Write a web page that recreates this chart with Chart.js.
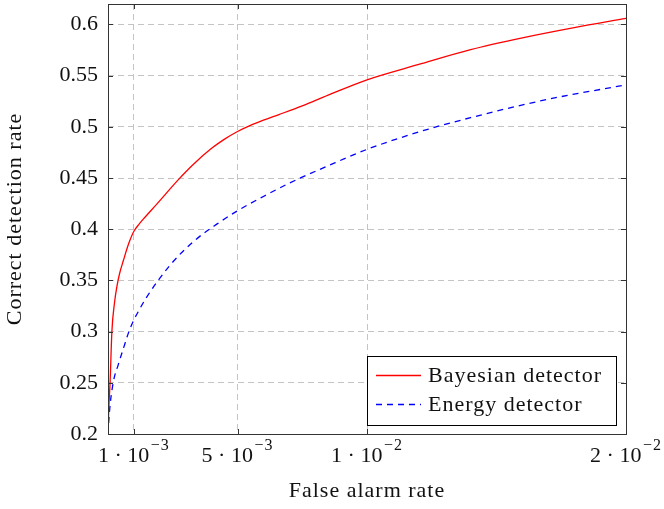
<!DOCTYPE html>
<html>
<head>
<meta charset="utf-8">
<script src="https://cdn.jsdelivr.net/npm/chart.js@4"></script>
<style>
  html, body { margin: 0; padding: 0; background: #fff; }
  canvas { display: block; }
</style>
</head>
<body>
<canvas id="rocChart" width="664" height="509"></canvas>
<script>
// false alarm rate (x) and correct detection rate (y)
const bayesX = [0, 0.00003, 0.00008, 0.00015, 0.00025, 0.00035, 0.00045, 0.0006, 0.0008, 0.001, 0.0012, 0.0014, 0.0019, 0.0027, 0.0033, 0.004, 0.0045, 0.005, 0.0055, 0.006, 0.0066, 0.0075, 0.0085, 0.01, 0.012, 0.014, 0.016, 0.018, 0.02];
const bayesY = [0.2, 0.225, 0.25, 0.3, 0.328, 0.345, 0.357, 0.37, 0.386, 0.398, 0.405, 0.411, 0.425, 0.448, 0.4635, 0.479, 0.488, 0.4955, 0.5015, 0.5065, 0.512, 0.5205, 0.531, 0.546, 0.561, 0.5755, 0.587, 0.597, 0.606];
const energyX = [0, 0.00005, 0.0002, 0.0004, 0.0006, 0.0008, 0.001, 0.0012, 0.0015, 0.0024, 0.0033, 0.0042, 0.005, 0.006, 0.007, 0.0085, 0.01, 0.012, 0.014, 0.017, 0.02];
const energyY = [0.2, 0.22, 0.25, 0.268, 0.284, 0.2995, 0.3115, 0.321, 0.334, 0.365, 0.388, 0.405, 0.418, 0.432, 0.445, 0.462, 0.478, 0.495, 0.509, 0.527, 0.541];

const seriesNames = ['Bayesian detector', 'Energy detector'];
const xTitle = 'False alarm rate';
const yTitle = 'Correct detection rate';
const xTicks = [0.001, 0.005, 0.01, 0.02];
const xTickMant = ['1', '5', '1', '2'];
const xTickExp = ['\u22123', '\u22123', '\u22122', '\u22122'];
const yTicks = [0.2, 0.25, 0.3, 0.35, 0.4, 0.45, 0.5, 0.55, 0.6];
const yTickLabels = ['0.2', '0.25', '0.3', '0.35', '0.4', '0.45', '0.5', '0.55', '0.6'];

const FONT = "'Liberation Serif', 'Times New Roman', serif";
const INK = '#111';

const toPts = (xs, ys) => xs.map((x, i) => ({ x, y: ys[i] }));

function wideText(ctx, txt, x, y, spacing) {
  ctx.letterSpacing = spacing + 'px';
  ctx.fillText(txt, x, y);
  ctx.letterSpacing = '0px';
}

// frame, inward ticks, x labels with superscripts, axis titles, legend box
const decorations = {
  id: 'decorations',
  afterDraw(chart) {
    const ctx = chart.ctx;
    const a = chart.chartArea;
    const xs = chart.scales.x, ys = chart.scales.y;
    ctx.save();
    ctx.strokeStyle = '#333';
    ctx.lineWidth = 1;
    ctx.setLineDash([]);
    ctx.strokeRect(Math.round(a.left) + 0.5, Math.round(a.top) + 0.5, Math.round(a.right - a.left), Math.round(a.bottom - a.top));

    const tl = 5;
    ctx.beginPath();
    xTicks.forEach(v => {
      const px = Math.round(xs.getPixelForValue(v)) + 0.5;
      ctx.moveTo(px, a.bottom); ctx.lineTo(px, a.bottom - tl);
      ctx.moveTo(px, a.top); ctx.lineTo(px, a.top + tl);
    });
    yTicks.forEach(v => {
      const py = Math.round(ys.getPixelForValue(v)) + 0.5;
      ctx.moveTo(a.left, py); ctx.lineTo(a.left + tl, py);
      ctx.moveTo(a.right, py); ctx.lineTo(a.right - tl, py);
    });
    ctx.stroke();

    // x tick labels: m · 10^e
    ctx.fillStyle = INK;
    ctx.textBaseline = 'alphabetic';
    ctx.textAlign = 'left';
    xTicks.forEach((v, i) => {
      const main = xTickMant[i] + ' \u00b7 10';
      ctx.font = '22px ' + FONT;
      const w1 = ctx.measureText(main).width;
      ctx.font = '16px ' + FONT;
      ctx.letterSpacing = '1px';
      const w2 = ctx.measureText(xTickExp[i]).width;
      ctx.letterSpacing = '0px';
      const cx = xs.getPixelForValue(v);
      const x0 = cx - (w1 + w2 + 1.5) / 2;
      ctx.font = '22px ' + FONT;
      ctx.fillText(main, x0, 462);
      ctx.font = '16px ' + FONT;
      wideText(ctx, xTickExp[i], x0 + w1 + 1.5, 450, 1);
    });

    // axis titles
    ctx.font = '22px ' + FONT;
    ctx.textAlign = 'center';
    ctx.textBaseline = 'middle';
    wideText(ctx, xTitle, (a.left + a.right) / 2, 491, 1);
    ctx.save();
    ctx.translate(15, (a.top + a.bottom) / 2);
    ctx.rotate(-Math.PI / 2);
    wideText(ctx, yTitle, 0, 0, 1);
    ctx.restore();

    // legend
    const lx = 367, ly = 356, lw = 249, lh = 69;
    ctx.fillStyle = '#fff';
    ctx.fillRect(lx, ly, lw, lh);
    ctx.strokeStyle = '#000';
    ctx.lineWidth = 1;
    ctx.strokeRect(lx + 0.5, ly + 0.5, lw, lh);
    const rows = [
      { y: 375, color: '#ff0000', dash: [] },
      { y: 404, color: '#0000ff', dash: [6, 5] }
    ];
    ctx.textAlign = 'left';
    rows.forEach((r, i) => {
      ctx.strokeStyle = r.color;
      ctx.lineWidth = 1.3;
      ctx.setLineDash(r.dash);
      ctx.beginPath();
      ctx.moveTo(376, r.y + 0.5);
      ctx.lineTo(421, r.y + 0.5);
      ctx.stroke();
      ctx.setLineDash([]);
      ctx.fillStyle = INK;
      ctx.font = '22px ' + FONT;
      ctx.textBaseline = 'middle';
      wideText(ctx, seriesNames[i], 428, r.y + 1, 1);
    });
    ctx.restore();
  }
};

new Chart(document.getElementById('rocChart'), {
  type: 'line',
  data: {
    datasets: [
      {
        label: seriesNames[0],
        data: toPts(bayesX, bayesY),
        borderColor: '#ff0000',
        borderWidth: 1.3,
        pointRadius: 0,
        fill: false,
        cubicInterpolationMode: 'monotone'
      },
      {
        label: seriesNames[1],
        data: toPts(energyX, energyY),
        borderColor: '#0000ff',
        borderWidth: 1.3,
        borderDash: [6, 5],
        pointRadius: 0,
        fill: false,
        cubicInterpolationMode: 'monotone'
      }
    ]
  },
  options: {
    responsive: false,
    animation: false,
    devicePixelRatio: 1,
    layout: { padding: { left: 0, right: 38, top: 4, bottom: 0 } },
    plugins: {
      legend: { display: false },
      tooltip: { enabled: false }
    },
    scales: {
      x: {
        type: 'linear',
        min: 0,
        max: 0.02,
        afterBuildTicks: s => { s.ticks = xTicks.map(v => ({ value: v })); },
        afterFit: s => { s.height = 75; s.paddingLeft = 0; s.paddingRight = 0; },
        ticks: { display: false },
        grid: { color: '#c4c4c4', lineWidth: 1, drawTicks: false },
        border: { display: false, dash: [6, 4] }
      },
      y: {
        type: 'linear',
        min: 0.2,
        max: 0.62,
        afterBuildTicks: s => { s.ticks = yTicks.map(v => ({ value: v })); },
        afterFit: s => { s.width = 108; s.paddingTop = 0; s.paddingBottom = 0; },
        ticks: {
          padding: 10,
          color: INK,
          font: { family: FONT, size: 22 },
          callback: (v) => {
            const i = yTicks.findIndex(t => Math.abs(t - v) < 1e-9);
            return i >= 0 ? yTickLabels[i] : '';
          }
        },
        grid: { color: '#c4c4c4', lineWidth: 1, drawTicks: false },
        border: { display: false, dash: [6, 4] }
      }
    }
  },
  plugins: [decorations]
});
</script>
</body>
</html>
